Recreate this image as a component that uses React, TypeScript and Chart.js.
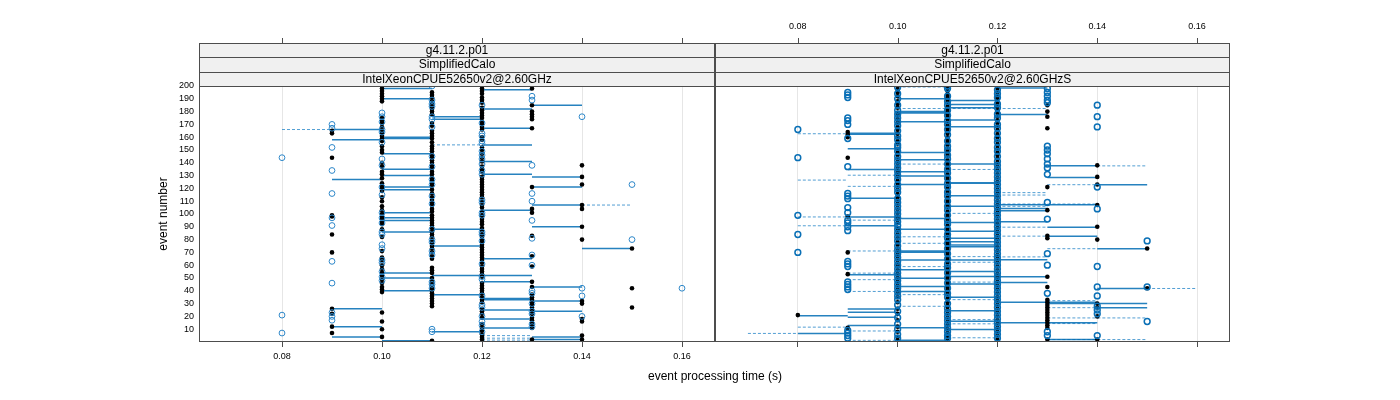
import React, { useEffect, useRef } from "react";
import { Chart, registerables } from "chart.js";
Chart.register(...registerables);

const FONT = "'Liberation Sans', Arial, Helvetica, sans-serif";

const timeRange = [0.0634, 0.1666];
const eventRange = [0, 200];
const timeTicks = [0.08, 0.1, 0.12, 0.14, 0.16];
const eventTicks = [10, 20, 30, 40, 50, 60, 70, 80, 90, 100, 110, 120, 130, 140, 150, 160, 170, 180, 190, 200];
const stripTexts = ["g4.11.2.p01", "SimplifiedCalo"];
const hostTexts = ["IntelXeonCPUE52650v2@2.60GHz", "IntelXeonCPUE52650v2@2.60GHzS"];
const xTitle = "event processing time (s)";
const yTitle = "event number";

type Col = [number, number[]];
type Seg = [number, number, number]; // [event, from time, to time]

// ---------- left panel ----------
const leftBlack: Col[] = [
  [0.09, [165, 163, 144, 99, 98, 84, 70, 26, 22, 12, 7]],
  [0.1, [200, 198, 196, 194, 192, 190, 188, 175, 173, 171, 168, 165, 163, 161, 159, 157, 153, 150, 148, 140, 137, 133, 131, 128, 124, 122, 120, 118, 113, 110, 106, 103, 100, 98, 96, 94, 92, 88, 82, 71, 66, 64, 60, 57, 54, 52, 49, 46, 43, 41, 39, 23, 16, 10, 4]],
  [0.11, [195, 193, 191, 188, 186, 184, 182, 180, 178, 171, 169, 165, 163, 161, 159, 156, 153, 151, 149, 146, 144, 142, 140, 138, 136, 133, 131, 128, 126, 124, 122, 119, 116, 113, 111, 109, 107, 104, 102, 99, 97, 95, 93, 91, 89, 86, 84, 82, 79, 77, 75, 73, 70, 67, 65, 58, 56, 54, 50, 47, 45, 42, 40, 38, 36, 34, 32, 30, 28, 1]],
  [0.12, [200, 198, 196, 194, 191, 189, 187, 183, 181, 179, 177, 175, 172, 170, 168, 166, 160, 158, 152, 150, 147, 144, 141, 137, 135, 133, 129, 127, 125, 123, 121, 119, 117, 115, 113, 110, 107, 105, 102, 99, 96, 94, 92, 89, 87, 84, 82, 80, 78, 76, 74, 72, 70, 68, 66, 64, 62, 59, 57, 55, 53, 51, 46, 44, 42, 40, 38, 35, 33, 31, 26, 24, 22, 19, 14, 11, 9, 6, 4, 2]],
  [0.13, [198, 185, 180, 178, 176, 174, 167, 121, 104, 101, 83, 67, 59, 47, 43, 37, 35, 33, 31, 29, 27, 25, 22, 19, 17, 15, 13, 11, 2]],
  [0.14, [138, 129, 123, 107, 104, 90, 80, 32, 30, 18, 16, 5, 2]],
  [0.15, [73, 42, 27]],
];
const leftBlue: Col[] = [
  [0.08, [144, 21, 7]],
  [0.09, [170, 167, 152, 134, 116, 97, 91, 63, 46, 23, 20, 17]],
  [0.1, [179, 176, 172, 166, 164, 156, 143, 138, 121, 115, 101, 97, 93, 86, 84, 76, 73, 64, 62, 55, 51, 48]],
  [0.11, [200, 189, 186, 184, 176, 174, 168, 145, 137, 127, 123, 114, 108, 88, 80, 78, 71, 68, 47, 45, 42, 10, 8]],
  [0.12, [185, 171, 163, 161, 157, 155, 149, 146, 143, 139, 134, 131, 111, 109, 101, 99, 86, 84, 79, 61, 51, 49, 36, 29, 27, 20, 16, 13, 8]],
  [0.13, [192, 189, 138, 116, 110, 95, 81, 68, 60, 40, 38, 30, 24, 22, 14, 12]],
  [0.14, [176, 42, 36, 20]],
  [0.15, [123, 80]],
  [0.16, [42]],
];
const leftSolid: Seg[] = [
  [198, 0.1, 0.11], [190, 0.1, 0.11], [197, 0.12, 0.13], [185, 0.13, 0.14], [182, 0.12, 0.13],
  [176, 0.11, 0.12], [174, 0.11, 0.12], [167, 0.12, 0.13], [166, 0.09, 0.1], [160, 0.1, 0.11],
  [159, 0.1, 0.11], [158, 0.09, 0.1], [154, 0.12, 0.13], [147, 0.1, 0.11], [141, 0.12, 0.13],
  [135, 0.1, 0.11], [131, 0.12, 0.13], [130, 0.1, 0.11], [129, 0.13, 0.14], [127, 0.09, 0.1],
  [121, 0.13, 0.14], [121, 0.1, 0.11], [119, 0.1, 0.11], [107, 0.13, 0.14], [103, 0.12, 0.13],
  [101, 0.1, 0.11], [97, 0.1, 0.11], [95, 0.1, 0.11], [90, 0.13, 0.14], [88, 0.11, 0.12],
  [86, 0.1, 0.11], [75, 0.11, 0.12], [73, 0.14, 0.15], [65, 0.12, 0.13], [54, 0.1, 0.11],
  [52, 0.11, 0.13], [50, 0.1, 0.11], [47, 0.12, 0.13], [43, 0.13, 0.14], [40, 0.1, 0.11],
  [37, 0.11, 0.12], [34, 0.12, 0.13], [33, 0.12, 0.13], [32, 0.13, 0.14], [26, 0.09, 0.1],
  [25, 0.12, 0.13], [24, 0.13, 0.14], [18, 0.12, 0.13], [12, 0.09, 0.1], [11, 0.12, 0.13],
  [8, 0.11, 0.12], [4, 0.09, 0.1], [4, 0.13, 0.14], [2, 0.13, 0.14], [1, 0.1, 0.11],
];
const leftDashed: Seg[] = [
  [166, 0.08, 0.09], [154, 0.11, 0.12], [107, 0.14, 0.15], [5, 0.12, 0.13], [3, 0.12, 0.13], [1.5, 0.12, 0.13],
];

// ---------- right panel ----------
const rightBlack: Col[] = [
  [0.08, [21]],
  [0.09, [164, 162, 160, 144, 98, 70, 53, 11]],
  [0.1, [200, 197, 195, 192, 188, 186, 183, 179, 177, 174, 171, 168, 166, 163, 160, 157, 155, 151, 148, 146, 143, 140, 137, 134, 132, 129, 126, 124, 121, 118, 115, 113, 110, 107, 104, 101, 98, 96, 93, 89, 87, 84, 81, 78, 76, 73, 70, 67, 64, 61, 59, 56, 53, 50, 47, 44, 41, 38, 35, 31, 26, 22, 17, 12, 8, 4, 1]],
  [0.11, [199, 196, 193, 191, 189, 187, 184, 182, 180, 178, 176, 174, 171, 169, 167, 165, 163, 160, 158, 156, 154, 151, 149, 147, 145, 142, 140, 138, 136, 134, 131, 129, 127, 125, 122, 120, 118, 116, 113, 111, 109, 107, 105, 102, 100, 98, 96, 94, 91, 89, 87, 85, 83, 80, 78, 76, 74, 72, 70, 68, 66, 64, 62, 59, 57, 55, 53, 51, 49, 47, 45, 43, 41, 39, 37, 34, 31, 28, 25, 22, 19, 16, 13, 10, 7, 4, 1]],
  [0.12, [200, 198, 195, 192, 190, 187, 184, 181, 179, 176, 173, 171, 168, 165, 162, 160, 157, 154, 151, 148, 146, 143, 140, 137, 134, 131, 128, 125, 122, 119, 116, 113, 110, 107, 104, 101, 98, 95, 92, 89, 86, 83, 80, 77, 74, 71, 68, 65, 62, 59, 56, 53, 50, 47, 44, 41, 38, 35, 32, 29, 26, 23, 20, 17, 14, 11, 8, 5, 2]],
  [0.13, [185, 180, 176, 167, 121, 103, 83, 81, 51, 43, 33, 31, 29, 27, 25, 23, 21, 19, 17, 15, 13, 11, 2]],
  [0.14, [138, 129, 123, 107, 90, 80, 30, 27, 20, 2]],
  [0.15, [73, 42]],
];
const rightBlue: Col[] = [
  [0.08, [166, 144, 99, 84, 70]],
  [0.09, [195, 193, 191, 175, 173, 170, 159, 137, 116, 114, 112, 105, 101, 95, 93, 90, 87, 63, 61, 59, 47, 45, 43, 41, 9, 7, 5, 3]],
  [0.1, [199, 194, 190, 185, 181, 178, 175, 172, 169, 165, 161, 158, 154, 152, 149, 145, 142, 139, 136, 133, 130, 127, 123, 120, 117, 112, 109, 106, 103, 100, 97, 94, 91, 88, 85, 82, 79, 75, 72, 69, 66, 63, 60, 57, 54, 51, 48, 45, 42, 39, 36, 33, 29, 24, 19, 14, 10, 6, 3]],
  [0.11, [200, 198, 192, 188, 185, 181, 177, 173, 170, 166, 162, 157, 153, 150, 146, 143, 139, 135, 132, 128, 124, 121, 117, 114, 110, 106, 103, 99, 95, 92, 88, 84, 81, 77, 73, 69, 65, 61, 58, 54, 50, 46, 42, 38, 35, 30, 26, 23, 20, 17, 14, 11, 8, 5, 3]],
  [0.12, [197, 194, 191, 186, 183, 178, 175, 170, 167, 163, 159, 156, 152, 149, 145, 141, 138, 135, 132, 129, 126, 123, 120, 117, 114, 111, 108, 105, 102, 99, 96, 93, 90, 87, 84, 81, 78, 75, 72, 69, 66, 63, 60, 57, 54, 51, 48, 45, 42, 39, 36, 33, 30, 27, 24, 21, 18, 15, 12, 9, 6, 3]],
  [0.13, [198, 195, 192, 189, 187, 153, 150, 147, 143, 139, 136, 131, 109, 96, 69, 60, 38, 8, 5]],
  [0.14, [185, 176, 168, 121, 104, 59, 43, 36, 28, 25, 22, 5]],
  [0.15, [79, 43, 16]],
];
const rightSolid: Seg[] = [
  [198.5, 0.12, 0.13], [190, 0.1, 0.11], [188.6, 0.11, 0.12], [185.5, 0.11, 0.12], [183, 0.11, 0.12],
  [180, 0.1, 0.11], [179, 0.1, 0.11], [177.7, 0.12, 0.13], [173.4, 0.11, 0.12], [172, 0.1, 0.11],
  [168.2, 0.11, 0.12], [163, 0.09, 0.1], [162.3, 0.09, 0.1], [151, 0.09, 0.1], [148, 0.1, 0.11],
  [142.4, 0.1, 0.11], [139, 0.11, 0.12], [137.6, 0.13, 0.14], [134.8, 0.09, 0.1], [133, 0.1, 0.11],
  [129.6, 0.1, 0.11], [128.6, 0.13, 0.14], [124.4, 0.11, 0.12], [124, 0.11, 0.12], [123, 0.1, 0.11],
  [122.9, 0.14, 0.15], [114.3, 0.11, 0.12], [112.3, 0.09, 0.1], [107.3, 0.12, 0.14], [106, 0.11, 0.12],
  [104.2, 0.12, 0.13], [102.5, 0.12, 0.13], [97.7, 0.09, 0.1], [96.4, 0.1, 0.11], [94, 0.12, 0.13],
  [93.3, 0.11, 0.12], [90.8, 0.09, 0.1], [89.7, 0.13, 0.14], [88, 0.1, 0.11], [86.6, 0.11, 0.12],
  [82.7, 0.13, 0.14], [81, 0.11, 0.12], [78.4, 0.11, 0.12], [75.8, 0.11, 0.12], [74.5, 0.11, 0.12],
  [72.9, 0.14, 0.15], [71.1, 0.1, 0.11], [70.2, 0.1, 0.11], [64.3, 0.12, 0.13], [64.1, 0.1, 0.12],
  [56.4, 0.1, 0.11], [55, 0.11, 0.12], [52.5, 0.09, 0.1], [51.2, 0.11, 0.12], [50.9, 0.12, 0.13],
  [49.9, 0.1, 0.11], [46.5, 0.12, 0.13], [45.3, 0.11, 0.12], [43.4, 0.1, 0.11], [41.8, 0.14, 0.15],
  [39.5, 0.1, 0.11], [34.9, 0.11, 0.12], [31, 0.12, 0.14], [30, 0.13, 0.15], [26.8, 0.14, 0.15],
  [25.8, 0.09, 0.1], [24.5, 0.11, 0.12], [23.3, 0.09, 0.1], [20.6, 0.08, 0.09], [19.3, 0.09, 0.1],
  [16.2, 0.11, 0.12], [15, 0.12, 0.14], [12.9, 0.09, 0.1], [11.1, 0.1, 0.11], [9.8, 0.11, 0.12],
  [6.7, 0.08, 0.09], [2, 0.13, 0.14], [1.3, 0.1, 0.11],
];
const rightDashed: Seg[] = [
  [199.2, 0.1, 0.11], [182.4, 0.1, 0.13], [162.7, 0.08, 0.09], [139, 0.1, 0.11], [137.6, 0.14, 0.15],
  [134.8, 0.11, 0.12], [130.3, 0.09, 0.1], [126.5, 0.08, 0.09], [122.9, 0.13, 0.14], [121.6, 0.09, 0.1],
  [116.7, 0.12, 0.13], [114.8, 0.12, 0.13], [107.8, 0.12, 0.14], [106, 0.12, 0.13], [100.5, 0.11, 0.12],
  [97.7, 0.08, 0.09], [95.2, 0.09, 0.1], [90.8, 0.08, 0.09], [89.7, 0.12, 0.13], [82.7, 0.12, 0.13],
  [82.2, 0.1, 0.11], [77.1, 0.1, 0.11], [72.9, 0.13, 0.14], [71.1, 0.09, 0.1], [66.7, 0.11, 0.12],
  [66.5, 0.12, 0.13], [62.3, 0.11, 0.12], [58.9, 0.1, 0.11], [53.8, 0.09, 0.1], [48.7, 0.09, 0.1],
  [46.8, 0.11, 0.12], [41.8, 0.15, 0.16], [39.5, 0.09, 0.1], [37, 0.1, 0.11], [33.1, 0.11, 0.12],
  [32.3, 0.13, 0.14], [27.9, 0.1, 0.11], [26.8, 0.13, 0.14], [18.8, 0.13, 0.15], [17.5, 0.11, 0.12],
  [14.4, 0.13, 0.14], [14.2, 0.11, 0.12], [11.6, 0.08, 0.09], [8.6, 0.09, 0.1], [6.7, 0.07, 0.08],
  [3.3, 0.11, 0.12], [1.9, 0.13, 0.15], [1.3, 0.09, 0.1],
];

// ---------- helpers ----------
function toPoints(cols: Col[]) {
  const out: { x: number; y: number }[] = [];
  cols.forEach(([x, ys]) => ys.forEach((y) => out.push({ x, y })));
  return out;
}
function toSegments(list: Seg[]) {
  const out: { x: number; y: number | null }[] = [];
  list.forEach(([y, a, b]) => {
    out.push({ x: a, y }, { x: b, y }, { x: b, y: null });
  });
  return out;
}

const STRIP_TOP = 43;

const decorPlugin = {
  id: "panelDecor",
  afterDraw(chart: any, _args: any, opts: any) {
    const { ctx, chartArea: a, scales } = chart;
    const xs = scales.x;
    ctx.save();
    ctx.strokeStyle = "#4d4d4d";
    ctx.lineWidth = 1;
    ctx.strokeRect(a.left + 0.5, a.top + 0.5, a.right - a.left - 1, a.bottom - a.top - 1);
    const texts = [...stripTexts, opts.host];
    const h = (a.top - STRIP_TOP) / 3;
    ctx.textAlign = "center";
    ctx.textBaseline = "middle";
    texts.forEach((t: string, i: number) => {
      const y0 = Math.round(STRIP_TOP + i * h);
      const y1 = Math.round(STRIP_TOP + (i + 1) * h);
      ctx.fillStyle = "#f0f0f0";
      ctx.fillRect(a.left, y0, a.right - a.left, y1 - y0);
      ctx.strokeRect(a.left + 0.5, y0 + 0.5, a.right - a.left - 1, y1 - y0);
      ctx.fillStyle = "#000";
      ctx.font = `12px ${FONT}`;
      ctx.fillText(t, (a.left + a.right) / 2, (y0 + y1) / 2 + 0.5);
    });
    ctx.beginPath();
    timeTicks.forEach((v) => {
      const px = Math.round(xs.getPixelForValue(v)) + 0.5;
      ctx.moveTo(px, STRIP_TOP);
      ctx.lineTo(px, STRIP_TOP - 5);
    });
    ctx.stroke();
    if (opts.topLabels) {
      ctx.fillStyle = "#000";
      ctx.font = `9px ${FONT}`;
      timeTicks.forEach((v) => ctx.fillText(v.toFixed(2), xs.getPixelForValue(v), 27));
    }
    ctx.restore();
  },
};

type PanelProps = {
  black: Col[];
  blue: Col[];
  solid: Seg[];
  dashed: Seg[];
  host: string;
  isLeft: boolean;
  left: number;
  width: number;
  padRight: number;
  ringColor: string;
  ringWidth: number;
};

function Panel(p: PanelProps) {
  const ref = useRef<HTMLCanvasElement>(null);
  useEffect(() => {
    const canvas = ref.current!;
    const chart = new Chart(canvas, {
      type: "scatter",
      data: {
        datasets: [
          {
            data: toPoints(p.blue),
            pointRadius: 2.9,
            pointBackgroundColor: "rgba(0,0,0,0)",
            pointBorderColor: p.ringColor,
            pointBorderWidth: p.ringWidth,
            showLine: false,
          },
          {
            data: toPoints(p.black),
            pointRadius: 2.3,
            pointBackgroundColor: "#000",
            pointBorderColor: "#000",
            pointBorderWidth: 0,
            showLine: false,
          },
          {
            data: toSegments(p.solid) as any,
            showLine: true,
            borderColor: "rgba(0,108,180,0.85)",
            borderWidth: 1.5,
            pointRadius: 0,
            spanGaps: false,
          },
          {
            data: toSegments(p.dashed) as any,
            showLine: true,
            borderColor: "rgba(40,135,200,0.8)",
            borderWidth: 1,
            borderDash: [3, 2],
            pointRadius: 0,
            spanGaps: false,
          },
        ],
      },
      options: {
        responsive: false,
        animation: false,
        devicePixelRatio: 1,
        events: [],
        layout: { autoPadding: false, padding: { top: 86, left: 0, right: p.padRight, bottom: 0 } },
        plugins: {
          legend: { display: false },
          tooltip: { enabled: false },
          panelDecor: { host: p.host, topLabels: !p.isLeft },
        } as any,
        scales: {
          x: {
            type: "linear",
            position: "bottom",
            min: timeRange[0],
            max: timeRange[1],
            afterBuildTicks: (s: any) => {
              s.ticks = timeTicks.map((v) => ({ value: v }));
            },
            afterFit: (s: any) => {
              s.height = 58;
            },
            grid: { color: "#e6e6e6", lineWidth: 1, drawTicks: true, tickLength: 5, tickColor: "#4d4d4d" },
            border: { display: false },
            ticks: {
              color: p.isLeft ? "#000" : "rgba(0,0,0,0)",
              font: { size: 9, family: FONT },
              padding: 4,
              maxRotation: 0,
              autoSkip: false,
              callback: (v: any) => Number(v).toFixed(2),
            },
          },
          y: {
            type: "linear",
            min: eventRange[0],
            max: eventRange[1],
            display: p.isLeft,
            afterBuildTicks: (s: any) => {
              s.ticks = eventTicks.map((v) => ({ value: v }));
            },
            afterFit: (s: any) => {
              s.width = p.isLeft ? 199 : 0;
            },
            grid: { display: false, drawTicks: false },
            border: { display: false },
            ticks: { color: "#000", font: { size: 9, family: FONT }, padding: 5, autoSkip: false },
          },
        },
      },
      plugins: [decorPlugin],
    });
    return () => chart.destroy();
  }, []);
  return (
    <canvas
      ref={ref}
      width={p.width}
      height={400}
      style={{ position: "absolute", left: p.left, top: 0, width: p.width, height: 400 }}
    />
  );
}

export default function App() {
  return (
    <div
      style={{
        position: "fixed",
        left: 0,
        top: 0,
        width: 1400,
        height: 400,
        background: "#fff",
        fontFamily: FONT,
        overflow: "hidden",
      }}
    >
      <Panel
        black={leftBlack}
        blue={leftBlue}
        solid={leftSolid}
        dashed={leftDashed}
        host={hostTexts[0]}
        isLeft={true}
        left={0}
        width={716}
        padRight={1}
        ringColor="#2f88c9"
        ringWidth={1}
      />
      <Panel
        black={rightBlack}
        blue={rightBlue}
        solid={rightSolid}
        dashed={rightDashed}
        host={hostTexts[1]}
        isLeft={false}
        left={715}
        width={530}
        padRight={15}
        ringColor="#0a70b6"
        ringWidth={1.5}
      />
      <div
        style={{
          position: "absolute",
          left: 515,
          width: 400,
          top: 369,
          textAlign: "center",
          fontSize: 12,
          lineHeight: "14px",
          color: "#000",
        }}
      >
        {xTitle}
      </div>
      <div
        style={{
          position: "absolute",
          left: 163 - 60,
          top: 214 - 7,
          width: 120,
          height: 14,
          lineHeight: "14px",
          textAlign: "center",
          fontSize: 12,
          color: "#000",
          transform: "rotate(-90deg)",
        }}
      >
        {yTitle}
      </div>
    </div>
  );
}
